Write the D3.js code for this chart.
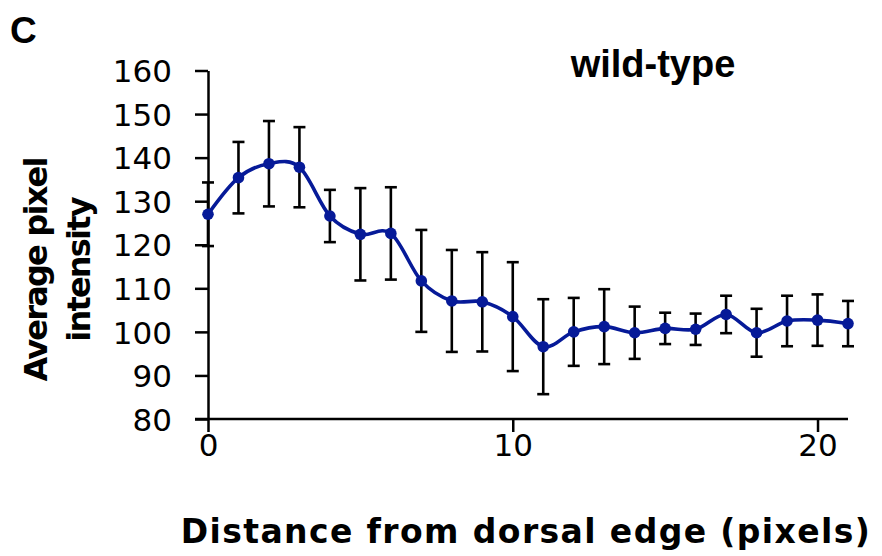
<!DOCTYPE html>
<html>
<head>
<meta charset="utf-8">
<script src="https://cdn.jsdelivr.net/npm/d3@7/dist/d3.min.js"></script>
<style>
  html, body { margin: 0; padding: 0; background: #fff; }
  svg { display: block; }
</style>
</head>
<body>
<svg id="chart" width="882" height="556"></svg>
<script>
// Distance from the dorsal edge (pixels)
const distance = [0, 1, 2, 3, 4, 5, 6, 7, 8, 9, 10, 11, 12, 13, 14, 15, 16, 17, 18, 19, 20, 21];
// Mean pixel intensity at each distance
const intensity = [127.0, 135.4, 138.6, 137.8, 126.6, 122.4, 122.6, 111.7, 107.1, 106.9, 103.5,
                   96.6, 100.0, 101.2, 99.8, 100.8, 100.6, 104.0, 99.8, 102.5, 102.7, 101.9];
// Error (half-length of each error bar)
const errorBar = [7.3, 8.2, 9.8, 9.2, 6.0, 10.6, 10.6, 11.7, 11.7, 11.4, 12.5,
                  10.9, 7.8, 8.6, 6.0, 3.6, 3.6, 4.3, 5.5, 5.8, 5.9, 5.2];
const yTicks = [80, 90, 100, 110, 120, 130, 140, 150, 160];
const xTicks = [0, 10, 20];

const svg = d3.select("#chart");

const x = d3.scaleLinear().domain([0, 21]).range([208, 848]);
const y = d3.scaleLinear().domain([80, 160]).range([419, 70.5]);

const tickFont = "DejaVu Sans, Verdana, sans-serif";

// Y axis
const yAxis = d3.axisLeft(y).tickValues(yTicks).tickSize(13).tickSizeOuter(0).tickPadding(23);
const gy = svg.append("g").attr("transform", `translate(${x(0)},0)`).call(yAxis);
gy.select(".domain").attr("stroke", "#000").attr("stroke-width", 2.5);
gy.selectAll(".tick line").attr("stroke", "#000").attr("stroke-width", 2.5);
gy.selectAll(".tick text")
  .attr("font-family", tickFont).attr("font-size", 31).attr("fill", "#000")
  .attr("dy", "0.36em");

// X axis
const xAxis = d3.axisBottom(x).tickValues(xTicks).tickSize(13).tickSizeOuter(0).tickPadding(2);
const gx = svg.append("g").attr("transform", `translate(0,${y(80)})`).call(xAxis);
gx.select(".domain").attr("stroke", "#000").attr("stroke-width", 2.5)
  .attr("d", `M${x(0) - 13},0H${x(21)}`);
gx.selectAll(".tick line").attr("stroke", "#000").attr("stroke-width", 2.5);
gx.selectAll(".tick text")
  .attr("font-family", tickFont).attr("font-size", 31).attr("fill", "#000");

const rows = distance.map((d, i) => ({ d, v: intensity[i], e: errorBar[i] }));

// Error bars
const eb = svg.append("g").attr("stroke", "#000").attr("stroke-width", 2.6).attr("fill", "none");
rows.forEach(r => {
  const cx = x(r.d), y0 = y(r.v - r.e), y1 = y(r.v + r.e);
  eb.append("line").attr("x1", cx).attr("x2", cx).attr("y1", y0).attr("y2", y1);
  eb.append("line").attr("x1", cx - 6).attr("x2", cx + 6).attr("y1", y0).attr("y2", y0);
  eb.append("line").attr("x1", cx - 6).attr("x2", cx + 6).attr("y1", y1).attr("y2", y1);
});

// Smoothed mean line
const lineColor = "#061a98";
const line = d3.line().x(r => x(r.d)).y(r => y(r.v)).curve(d3.curveCardinal.tension(0));
svg.append("path").datum(rows)
  .attr("d", line).attr("fill", "none").attr("stroke", lineColor).attr("stroke-width", 3.6);

svg.append("g").selectAll("circle").data(rows).join("circle")
  .attr("cx", r => x(r.d)).attr("cy", r => y(r.v)).attr("r", 5.8).attr("fill", lineColor);

// Panel letter and title
svg.append("text").attr("x", 10).attr("y", 43)
  .attr("font-family", "Liberation Sans, Arial, sans-serif").attr("font-weight", "bold")
  .attr("font-size", 37).text("C");

svg.append("text").attr("x", 653).attr("y", 77).attr("text-anchor", "middle")
  .attr("font-family", "Liberation Sans, Arial, sans-serif").attr("font-weight", "bold")
  .attr("font-size", 38).text("wild-type");

// Axis titles
const titleFont = "DejaVu Sans, Verdana, sans-serif";
svg.append("text").attr("x", 526).attr("y", 543).attr("text-anchor", "middle")
  .attr("font-family", titleFont).attr("font-weight", "bold").attr("font-size", 33)
  .attr("letter-spacing", 1.4)
  .text("Distance from dorsal edge (pixels)");

const yt = svg.append("text").attr("transform", "translate(0,270) rotate(-90)")
  .attr("text-anchor", "middle")
  .attr("font-family", titleFont).attr("font-weight", "bold").attr("font-size", 32)
  .attr("letter-spacing", -1.8);
yt.append("tspan").attr("x", 0).attr("y", 47).text("Average pixel");
yt.append("tspan").attr("x", 0).attr("y", 90).text("intensity");
</script>
</body>
</html>
